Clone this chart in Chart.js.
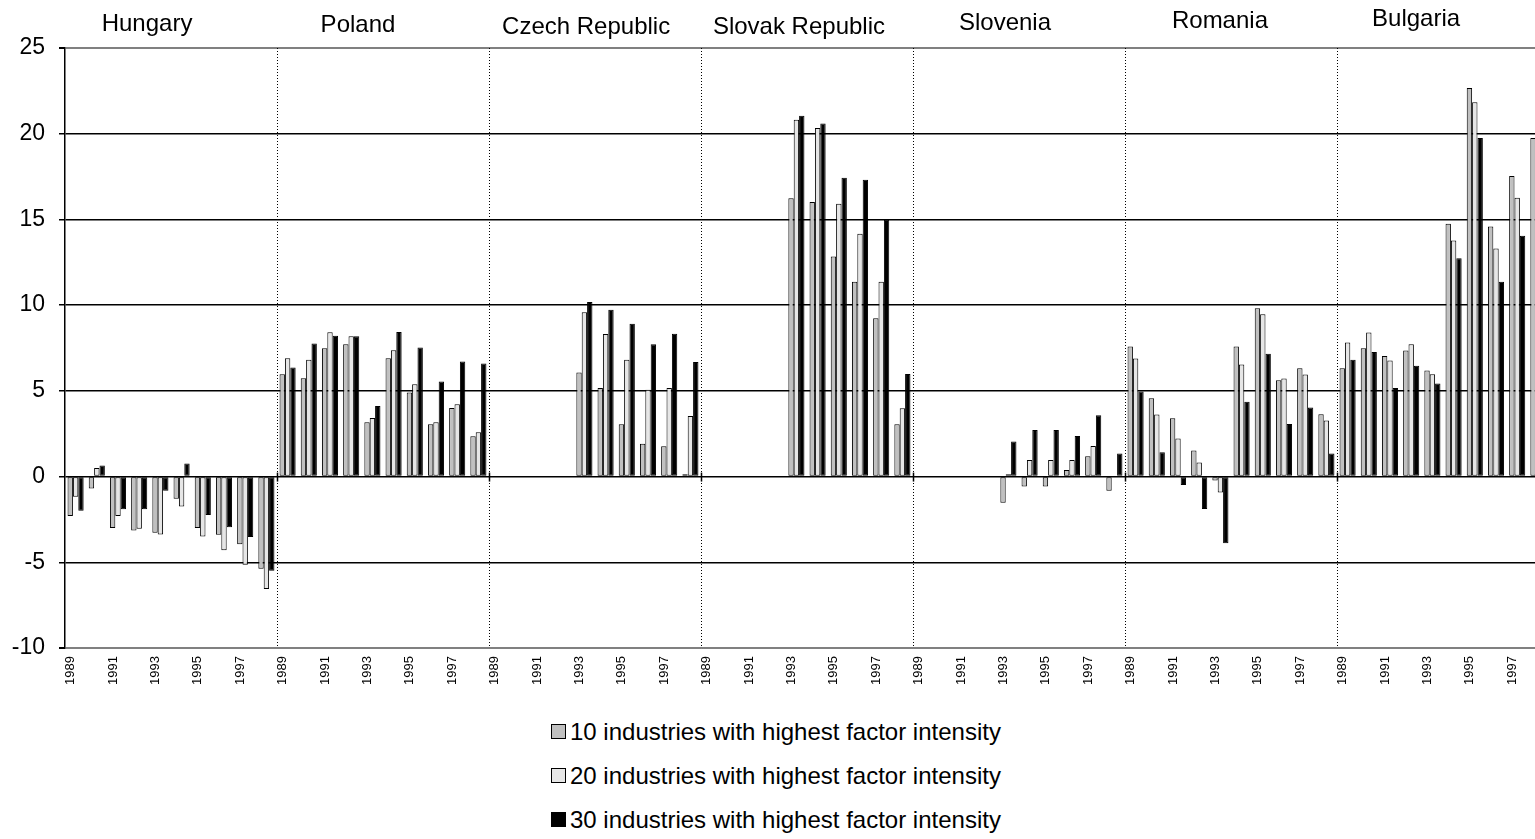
<!DOCTYPE html>
<html>
<head>
<meta charset="utf-8">
<script src="https://cdn.jsdelivr.net/npm/chart.js@4.4.0/dist/chart.umd.min.js"></script>
<style>
  html, body { margin: 0; padding: 0; background: #fff; overflow: hidden; width: 1535px; height: 839px; }
  #wrap { position: relative; width: 1535px; height: 839px; overflow: hidden; }
  #c { position: absolute; left: 0; top: 0; }
  .legend { position: absolute; left: 551px; top: 0; font-family: 'Liberation Sans', Arial, sans-serif; font-size: 24px; color: #000; }
  .row { position: absolute; left: 0; white-space: nowrap; height: 30px; line-height: 30px; }
  .box { display: inline-block; width: 13px; height: 13px; border: 1.5px solid #000; vertical-align: middle; margin-right: 4px; position: relative; top: -2px; }
</style>
</head>
<body>
<div id="wrap">
  <canvas id="c" width="1552" height="700"></canvas>
  <div class="legend" id="legend"></div>
</div>
<script>
// ---- data ----
const countries = ['Hungary', 'Poland', 'Czech Republic', 'Slovak Republic', 'Slovenia', 'Romania', 'Bulgaria'];
const years = ['1989', '1990', '1991', '1992', '1993', '1994', '1995', '1996', '1997', '1998'];
const tickYears = ['1989', '1991', '1993', '1995', '1997'];
const seriesLabels = [
  '10 industries with highest factor intensity',
  '20 industries with highest factor intensity',
  '30 industries with highest factor intensity'
];

const top10 = [
  -2.3, -0.7, -3.0, -3.15, -3.27, -1.3, -3.0, -3.4, -3.95, -5.37,       // Hungary
  5.97, 5.74, 7.49, 7.72, 3.17, 6.9, 4.9, 3.05, 4.0, 2.35,              // Poland
  null, null, null, null, 6.07, 5.16, 3.05, 1.91, 1.77, 0.14,           // Czech Republic
  null, null, null, null, 16.24, 16.01, 12.84, 11.36, 9.24, 3.05,       // Slovak Republic
  null, null, null, null, -1.52, -0.58, -0.58, 0.39, 1.19, -0.82,       // Slovenia
  7.59, 4.57, 3.40, 1.52, -0.23, 7.59, 9.82, 5.62, 6.32, 3.64,          // Romania
  6.32, 7.49, 7.04, 7.35, 6.19, 14.75, 22.67, 14.59, 17.53, 19.75       // Bulgaria
];
const top20 = [
  -1.17, 0.5, -2.3, -3.05, -3.38, -1.75, -3.5, -4.3, -5.14, -6.56,
  6.9, 6.81, 8.42, 8.19, 3.42, 7.37, 5.39, 3.17, 4.22, 2.59,
  null, null, null, null, 9.59, 8.31, 6.81, 5.06, 5.16, 3.54,
  null, null, null, null, 20.82, 20.33, 15.91, 14.16, 11.36, 3.99,
  null, null, null, null, 0.14, 0.97, 0.97, 0.97, 1.79, 0,
  6.89, 3.62, 2.22, 0.82, -0.93, 6.54, 9.47, 5.72, 5.95, 3.27,
  7.82, 8.40, 6.77, 7.72, 5.97, 13.77, 21.83, 13.31, 16.26, 19.0
];
const top30 = [
  -2.0, 0.65, -1.9, -1.9, -0.82, 0.76, -2.24, -2.96, -3.52, -5.5,
  6.36, 7.76, 8.21, 8.19, 4.12, 8.44, 7.53, 5.54, 6.71, 6.6,
  null, null, null, null, 10.18, 9.73, 8.91, 7.72, 8.33, 6.69,
  null, null, null, null, 21.05, 20.6, 17.43, 17.32, 14.98, 5.99,
  null, null, null, null, 2.04, 2.72, 2.72, 2.37, 3.58, 1.34,
  4.96, 1.42, -0.49, -1.89, -3.89, 4.36, 7.16, 3.07, 4.03, 1.34,
  6.81, 7.26, 5.16, 6.46, 5.43, 12.74, 19.75, 11.36, 14.05, 17.0
];

// ---- layout / style ----
const FONT = "'Liberation Sans', Arial, sans-serif";
const colors = ['#c0c0c0', '#e6e6e6', '#000000'];
// country label placement: fraction across the group, and y pixel
const labelPos = [
  { f: 0.387, y: 24 }, { f: 0.382, y: 25 }, { f: 0.458, y: 27 }, { f: 0.462, y: 27 },
  { f: 0.434, y: 23 }, { f: 0.448, y: 21 }, { f: 0.373, y: 19 }
];
const legendRowTop = [717, 761, 805];

const categories = [];
countries.forEach(() => years.forEach(y => categories.push(y)));
const series = [top10, top20, top30];

const groupPlugin = {
  id: 'groups',
  beforeDatasetsDraw(chart) {
    const { ctx, chartArea, scales } = chart;
    const x = scales.x, y = scales.y;
    const y0 = y.getPixelForValue(0);
    ctx.save();
    for (let g = 1; g < countries.length; g++) {
      const px = Math.round((x.getPixelForValue(g * years.length - 1) + x.getPixelForValue(g * years.length)) / 2) + 0.5;
      ctx.strokeStyle = '#000';
      ctx.lineWidth = 1;
      ctx.setLineDash([1, 2]);
      ctx.beginPath();
      ctx.moveTo(px, chartArea.top);
      ctx.lineTo(px, chartArea.bottom);
      ctx.stroke();
      ctx.setLineDash([]);
      ctx.lineWidth = 1.5;
      ctx.beginPath();
      ctx.moveTo(px, y0 - 4);
      ctx.lineTo(px, y0 + 5);
      ctx.stroke();
    }
    ctx.restore();
  },
  afterDraw(chart) {
    const { ctx, scales } = chart;
    const x = scales.x;
    const step = x.getPixelForValue(1) - x.getPixelForValue(0);
    ctx.save();
    ctx.font = '24px ' + FONT;
    ctx.fillStyle = '#000';
    ctx.textAlign = 'center';
    ctx.textBaseline = 'middle';
    countries.forEach((c, g) => {
      const start = x.getPixelForValue(g * years.length) - step / 2;
      const px = start + labelPos[g].f * step * years.length;
      ctx.fillText(c, px, labelPos[g].y);
    });
    ctx.restore();
  }
};

new Chart(document.getElementById('c'), {
  type: 'bar',
  data: {
    labels: categories,
    datasets: series.map((d, i) => ({
      label: seriesLabels[i],
      data: d,
      backgroundColor: colors[i],
      borderColor: '#000',
      borderWidth: 1,
      borderSkipped: false,
      categoryPercentage: 0.76,
      barPercentage: 1.0
    }))
  },
  options: {
    responsive: false,
    animation: false,
    devicePixelRatio: 1,
    layout: { padding: { top: 48, left: 0, right: 3, bottom: 0 } },
    plugins: { legend: { display: false }, tooltip: { enabled: false } },
    scales: {
      x: {
        grid: { display: false, drawTicks: false },
        border: { display: false },
        ticks: {
          autoSkip: false, maxRotation: 90, minRotation: 90, padding: 8, labelOffset: -5,
          font: { family: FONT, size: 13 }, color: '#000',
          callback: function (v) { const l = this.getLabelForValue(v); return tickYears.includes(l) ? l : ''; }
        },
        afterFit(s) { s.height = 52; s.paddingLeft = 0; s.paddingRight = 0; }
      },
      y: {
        min: -10, max: 25,
        ticks: { stepSize: 5, padding: 14, font: { family: FONT, size: 23 }, color: '#000' },
        grid: {
          color: c => (c.tick && (c.tick.value === 25 || c.tick.value === -10)) ? '#808080' : '#000',
          lineWidth: c => (c.tick && (c.tick.value === 25 || c.tick.value === -10)) ? 2 : 1.5,
          tickColor: '#000', tickLength: 6, drawTicks: true
        },
        border: { display: true, color: '#000', width: 1.5 },
        afterFit(s) { s.width = 65; }
      }
    }
  },
  plugins: [groupPlugin]
});

// HTML legend
const legend = document.getElementById('legend');
seriesLabels.forEach((l, i) => {
  const r = document.createElement('div');
  r.className = 'row';
  r.style.top = legendRowTop[i] + 'px';
  const b = document.createElement('span');
  b.className = 'box';
  b.style.background = colors[i];
  r.appendChild(b);
  r.appendChild(document.createTextNode(l));
  legend.appendChild(r);
});
</script>
</body>
</html>
